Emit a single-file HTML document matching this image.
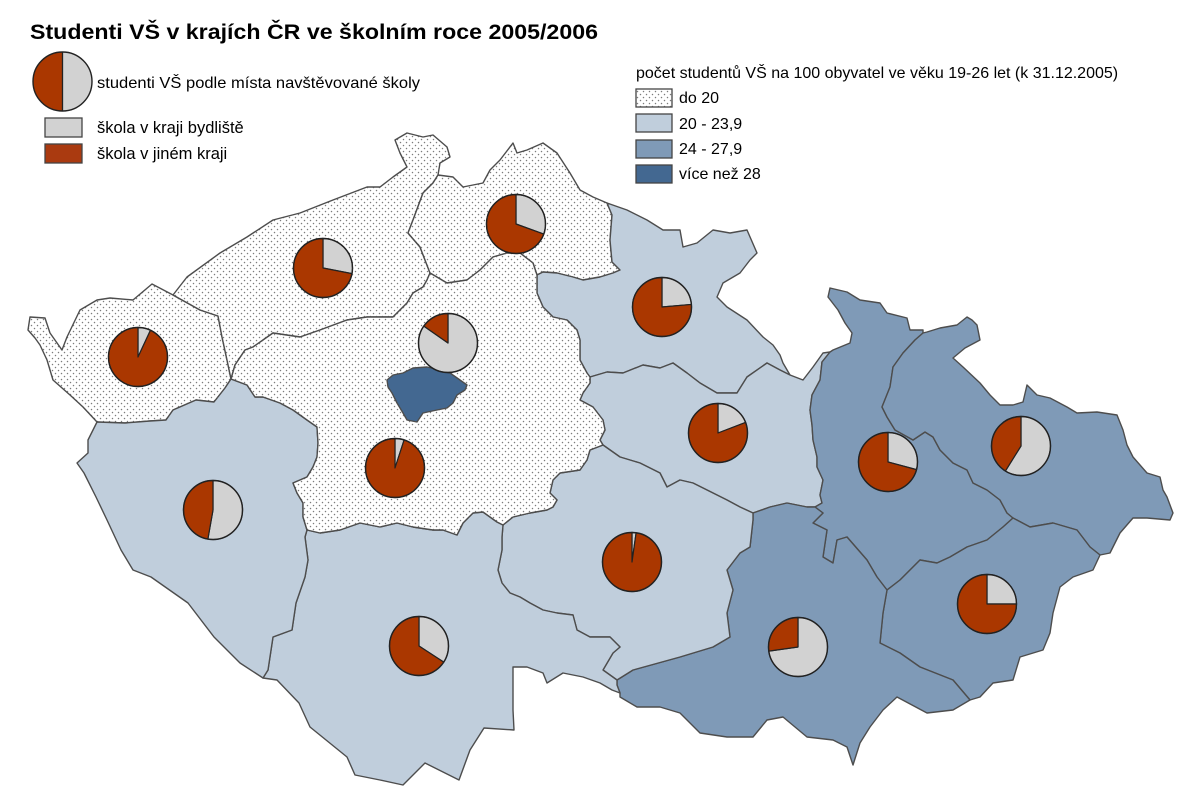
<!DOCTYPE html>
<html><head><meta charset="utf-8"><style>
html,body{margin:0;padding:0;background:#fff;}
svg{display:block;}
text{font-family:"Liberation Sans",Arial,sans-serif;fill:#000;}
</style></head><body>
<svg width="1200" height="800" viewBox="0 0 1200 800" xmlns="http://www.w3.org/2000/svg">
<defs>
<pattern id="dots" width="6" height="6" patternUnits="userSpaceOnUse">
<rect width="6" height="6" fill="#ffffff"/>
<circle cx="1.5" cy="1.5" r="0.75" fill="#7c7c7c"/>
<circle cx="4.5" cy="4.5" r="0.75" fill="#7c7c7c"/>
</pattern>
</defs>
<rect width="1200" height="800" fill="#fff"/>

<text x="30" y="39" font-size="21" font-weight="bold" textLength="568" lengthAdjust="spacingAndGlyphs">Studenti VŠ v krajích ČR ve školním roce 2005/2006</text>

<!-- left legend -->
<path d="M62.5,81.5 L62.5,52 A29.5,29.5 0 0 0 62.5,111 Z" fill="#aa3700"/>
<path d="M62.5,81.5 L62.5,52 A29.5,29.5 0 0 1 62.5,111 Z" fill="#d2d2d2"/>
<line x1="62.5" y1="52" x2="62.5" y2="111" stroke="#222" stroke-width="1.3"/>
<circle cx="62.5" cy="81.5" r="29.5" fill="none" stroke="#222" stroke-width="1.4"/>
<text x="97" y="88" font-size="16" textLength="323" lengthAdjust="spacingAndGlyphs">studenti VŠ podle místa navštěvované školy</text>
<rect x="45" y="118" width="37" height="19" fill="#d2d2d2" stroke="#444" stroke-width="1.3"/>
<text x="97" y="133" font-size="16.5">škola v kraji bydliště</text>
<rect x="45" y="144" width="37" height="19" fill="#aa3a10" stroke="#444" stroke-width="1.3"/>
<text x="97" y="159" font-size="16.5">škola v jiném kraji</text>

<!-- right legend -->
<text x="636" y="78" font-size="16">počet studentů VŠ na 100 obyvatel ve věku 19-26 let (k 31.12.2005)</text>
<rect x="636" y="89" width="36" height="18" fill="url(#dots)" stroke="#444" stroke-width="1.3"/>
<text x="679" y="103" font-size="16">do 20</text>
<rect x="636" y="114" width="36" height="18" fill="#c0cedc" stroke="#444" stroke-width="1.3"/>
<text x="679" y="129" font-size="16">20 - 23,9</text>
<rect x="636" y="140" width="36" height="18" fill="#7f9ab7" stroke="#444" stroke-width="1.3"/>
<text x="679" y="154" font-size="16">24 - 27,9</text>
<rect x="636" y="165" width="36" height="18" fill="#436891" stroke="#444" stroke-width="1.3"/>
<text x="679" y="179" font-size="16">více než 28</text>

<g stroke="#4d4d4d" stroke-width="1.4" stroke-linejoin="round">
<!-- Karlovarsky -->
<path fill="url(#dots)" d="M30,317 L45,318 L50,333 L62,350 L67,337 L80,310 L97,300 L110,298 L133,300 L152,284 L173,295 L200,310 L218,316 L222,337 L227,360 L231,379 L225,388 L214,402 L196,400 L173,410 L166,420 L150,421 L125,423 L97,422 L83,407 L70,395 L53,380 L47,360 L40,345 L35,338 L28,330 Z"/>
<!-- Ustecky -->
<path fill="url(#dots)" d="M173,295 L187,277 L220,253 L247,237 L273,220 L300,213 L333,200 L367,187 L380,187 L393,177 L407,167 L400,153 L395,140 L407,133 L423,137 L433,135 L447,147 L450,157 L440,163 L438,175 L433,183 L423,193 L413,220 L408,233 L420,247 L430,273 L427,280 L423,287 L413,293 L407,303 L393,317 L380,317 L367,317 L347,320 L320,330 L300,337 L273,333 L253,347 L245,350 L235,365 L231,379 L227,360 L222,337 L218,316 L200,310 Z"/>
<!-- Liberecky -->
<path fill="url(#dots)" d="M438,175 L453,177 L463,187 L483,183 L490,170 L500,160 L513,143 L517,153 L527,150 L543,143 L557,153 L570,173 L580,190 L593,197 L607,203 L612,215 L610,240 L612,262 L620,270 L613,273 L600,277 L583,280 L573,277 L557,273 L543,272 L537,275 L533,263 L520,253 L507,253 L493,257 L480,270 L467,280 L447,283 L430,273 L420,247 L408,233 L413,220 L423,193 L433,183 Z"/>
<!-- Kralovehradecky -->
<path fill="#c0cedc" d="M607,203 L627,210 L647,220 L663,230 L680,230 L683,247 L697,243 L713,230 L730,233 L747,230 L757,253 L750,260 L740,273 L723,283 L717,297 L727,307 L747,320 L763,337 L773,345 L780,355 L783,363 L790,375 L780,370 L767,363 L747,377 L737,393 L717,393 L700,383 L687,373 L673,363 L660,368 L643,365 L623,373 L607,372 L590,377 L587,373 L580,360 L580,340 L577,330 L567,320 L553,317 L543,307 L537,293 L537,275 L543,272 L557,273 L573,277 L583,280 L600,277 L613,273 L620,270 L612,262 L610,240 L612,215 Z"/>
<!-- Pardubicky -->
<path fill="#c0cedc" d="M590,377 L607,372 L623,373 L643,365 L660,368 L673,363 L687,373 L700,383 L717,393 L737,393 L747,377 L767,363 L780,370 L790,375 L803,380 L813,367 L823,353 L830,352 L822,362 L820,380 L812,395 L810,410 L812,425 L813,440 L817,457 L817,467 L823,480 L820,495 L822,503 L815,507 L807,507 L787,503 L770,507 L753,513 L740,507 L727,500 L713,493 L693,483 L680,480 L667,487 L660,473 L640,463 L620,457 L603,445 L600,440 L605,430 L603,420 L593,407 L580,400 L583,393 L590,383 Z"/>
<!-- Olomoucky -->
<path fill="#7f9ab7" d="M830,352 L833,350 L850,343 L852,333 L845,323 L838,310 L828,297 L830,288 L847,292 L860,300 L880,303 L887,313 L907,318 L910,330 L923,330 L923,333 L915,340 L903,353 L893,367 L890,387 L882,407 L887,417 L895,430 L913,440 L925,432 L933,437 L940,450 L953,463 L967,470 L973,483 L987,490 L1000,500 L1007,513 L1013,518 L1003,527 L987,540 L967,547 L950,557 L937,563 L920,560 L900,580 L887,590 L877,577 L867,560 L847,537 L837,540 L833,563 L823,557 L827,530 L813,523 L823,513 L815,507 L822,503 L820,495 L823,480 L817,467 L817,457 L813,440 L812,425 L810,410 L812,395 L820,380 L822,362 Z"/>
<!-- Moravskoslezsky -->
<path fill="#7f9ab7" d="M923,333 L927,332 L940,328 L957,325 L967,317 L972,320 L977,325 L980,340 L965,348 L953,358 L963,367 L980,383 L990,395 L1000,405 L1013,405 L1023,402 L1027,385 L1037,395 L1050,398 L1067,407 L1077,413 L1097,412 L1117,415 L1123,430 L1127,445 L1133,457 L1147,473 L1160,477 L1163,490 L1167,497 L1173,513 L1170,520 L1147,518 L1133,518 L1120,533 L1110,553 L1100,555 L1090,547 L1077,530 L1053,523 L1030,527 L1013,518 L1007,513 L1000,500 L987,490 L973,483 L967,470 L953,463 L940,450 L933,437 L925,432 L913,440 L895,430 L887,417 L882,407 L890,387 L893,367 L903,353 L915,340 Z"/>
<!-- Zlinsky -->
<path fill="#7f9ab7" d="M1013,518 L1030,527 L1053,523 L1077,530 L1090,547 L1100,555 L1093,570 L1073,577 L1060,587 L1053,613 L1050,633 L1043,650 L1020,657 L1013,680 L993,683 L980,697 L970,700 L953,680 L920,667 L900,653 L880,643 L883,613 L887,590 L900,580 L920,560 L937,563 L950,557 L967,547 L987,540 L1003,527 Z"/>
<!-- Jihomoravsky -->
<path fill="#7f9ab7" d="M753,513 L770,507 L787,503 L807,507 L815,507 L823,513 L813,523 L827,530 L823,557 L833,563 L837,540 L847,537 L867,560 L877,577 L887,590 L883,613 L880,643 L900,653 L920,667 L953,680 L970,700 L953,710 L927,713 L897,697 L883,710 L870,727 L860,743 L853,765 L847,747 L833,740 L807,737 L783,717 L767,720 L753,737 L727,737 L700,733 L680,713 L660,707 L637,707 L620,697 L620,693 L617,685 L617,680 L633,670 L680,657 L713,647 L730,637 L727,613 L733,590 L727,570 L740,553 L750,547 L753,520 Z"/>
<!-- Vysocina -->
<path fill="#c0cedc" d="M603,445 L620,457 L640,463 L660,473 L667,487 L680,480 L693,483 L713,493 L727,500 L740,507 L753,513 L753,520 L750,547 L740,553 L727,570 L733,590 L727,613 L730,637 L713,647 L680,657 L633,670 L617,680 L603,670 L613,653 L620,647 L610,637 L590,637 L577,630 L573,615 L557,613 L543,610 L530,603 L520,597 L510,593 L502,583 L498,570 L502,550 L502,537 L503,525 L513,517 L530,513 L547,510 L553,507 L557,500 L550,493 L553,480 L560,473 L580,470 L587,460 L590,450 Z"/>
<!-- Jihocesky -->
<path fill="#c0cedc" d="M307,530 L320,533 L340,530 L360,523 L380,527 L397,523 L413,527 L433,530 L443,530 L457,535 L463,523 L473,513 L483,512 L497,522 L503,525 L502,537 L502,550 L498,570 L502,583 L510,593 L520,597 L530,603 L543,610 L557,613 L573,615 L577,630 L590,637 L610,637 L620,647 L613,653 L603,670 L617,680 L617,685 L620,693 L612,690 L600,683 L583,677 L563,673 L547,683 L543,673 L527,667 L513,667 L513,710 L514,730 L484,728 L470,750 L459,780 L425,763 L403,785 L380,780 L355,775 L347,757 L310,727 L299,703 L277,680 L263,678 L268,670 L273,637 L292,630 L296,603 L305,577 L308,560 L305,537 Z"/>
<!-- Plzensky -->
<path fill="#c0cedc" d="M97,422 L125,423 L150,421 L166,420 L173,410 L196,400 L214,402 L225,388 L231,379 L247,385 L255,397 L263,397 L280,403 L293,410 L307,420 L317,427 L318,443 L317,457 L313,467 L307,477 L293,483 L297,493 L303,503 L303,517 L307,530 L305,537 L308,560 L305,577 L296,603 L292,630 L273,637 L268,670 L263,678 L240,663 L214,637 L188,603 L151,577 L133,570 L121,550 L107,520 L96,497 L84,473 L77,463 L88,453 L88,440 Z"/>
<!-- Stredocesky -->
<path fill="url(#dots)" d="M231,379 L235,365 L245,350 L253,347 L273,333 L300,337 L320,330 L347,320 L367,317 L380,317 L393,317 L407,303 L413,293 L423,287 L427,280 L430,273 L447,283 L467,280 L480,270 L493,257 L507,253 L520,253 L533,263 L537,275 L537,293 L543,307 L553,317 L567,320 L577,330 L580,340 L580,360 L587,373 L590,377 L590,383 L583,393 L580,400 L593,407 L603,420 L605,430 L600,440 L603,445 L590,450 L587,460 L580,470 L560,473 L553,480 L550,493 L557,500 L553,507 L547,510 L530,513 L513,517 L503,525 L497,522 L483,512 L473,513 L463,523 L457,535 L443,530 L433,530 L413,527 L397,523 L380,527 L360,523 L340,530 L320,533 L307,530 L303,517 L303,503 L297,493 L293,483 L307,477 L313,467 L317,457 L318,443 L317,427 L307,420 L293,410 L280,403 L263,397 L255,397 L247,385 Z"/>
<!-- Praha -->
<path fill="#436891" d="M387,380 L393,375 L403,373 L413,368 L427,367 L440,370 L450,373 L460,380 L467,385 L465,390 L457,395 L453,403 L447,408 L437,410 L423,413 L417,422 L407,420 L403,413 L397,403 L392,393 L388,387 Z"/>
</g>

<!-- pies -->
<g stroke="#222" stroke-width="1.2" stroke-linejoin="round">
<!-- KV -->
<path d="M138,357 L138,327.5 A29.5,29.5 0 0 1 150.47,330.26 Z" fill="#d2d2d2"/>
<path d="M138,357 L150.47,330.26 A29.5,29.5 0 1 1 138,327.5 Z" fill="#aa3700"/>
<!-- Usti -->
<path d="M323,268 L323,238.5 A29.5,29.5 0 0 1 351.96,273.63 Z" fill="#d2d2d2"/>
<path d="M323,268 L351.96,273.63 A29.5,29.5 0 1 1 323,238.5 Z" fill="#aa3700"/>
<!-- Liberec -->
<path d="M516,224 L516,194.5 A29.5,29.5 0 0 1 543.72,234.09 Z" fill="#d2d2d2"/>
<path d="M516,224 L543.72,234.09 A29.5,29.5 0 1 1 516,194.5 Z" fill="#aa3700"/>
<!-- Praha -->
<path d="M448,343 L448,313.5 A29.5,29.5 0 1 1 423.83,326.08 Z" fill="#d2d2d2"/>
<path d="M448,343 L423.83,326.08 A29.5,29.5 0 0 1 448,313.5 Z" fill="#aa3700"/>
<!-- Stredocesky -->
<path d="M395,468 L395,438.5 A29.5,29.5 0 0 1 404.12,439.94 Z" fill="#d2d2d2"/>
<path d="M395,468 L404.12,439.94 A29.5,29.5 0 1 1 395,438.5 Z" fill="#aa3700"/>
<!-- Plzen -->
<path d="M213,510 L213,480.5 A29.5,29.5 0 1 1 207.88,539.05 Z" fill="#d2d2d2"/>
<path d="M213,510 L207.88,539.05 A29.5,29.5 0 0 1 213,480.5 Z" fill="#aa3700"/>
<!-- Jihocesky -->
<path d="M419,646 L419,616.5 A29.5,29.5 0 0 1 443.74,662.07 Z" fill="#d2d2d2"/>
<path d="M419,646 L443.74,662.07 A29.5,29.5 0 1 1 419,616.5 Z" fill="#aa3700"/>
<!-- KH -->
<path d="M662,307 L662,277.5 A29.5,29.5 0 0 1 691.39,304.43 Z" fill="#d2d2d2"/>
<path d="M662,307 L691.39,304.43 A29.5,29.5 0 1 1 662,277.5 Z" fill="#aa3700"/>
<!-- Pardubice -->
<path d="M718,433 L718,403.5 A29.5,29.5 0 0 1 745.54,422.43 Z" fill="#d2d2d2"/>
<path d="M718,433 L745.54,422.43 A29.5,29.5 0 1 1 718,403.5 Z" fill="#aa3700"/>
<!-- Vysocina -->
<path d="M632,562 L632,532.5 A29.5,29.5 0 0 1 636.11,532.79 Z" fill="#d2d2d2"/>
<path d="M632,562 L636.11,532.79 A29.5,29.5 0 1 1 632,532.5 Z" fill="#aa3700"/>
<!-- JM -->
<path d="M798,647 L798,617.5 A29.5,29.5 0 1 1 768.79,651.11 Z" fill="#d2d2d2"/>
<path d="M798,647 L768.79,651.11 A29.5,29.5 0 0 1 798,617.5 Z" fill="#aa3700"/>
<!-- Olomouc -->
<path d="M888,462 L888,432.5 A29.5,29.5 0 0 1 916.49,469.64 Z" fill="#d2d2d2"/>
<path d="M888,462 L916.49,469.64 A29.5,29.5 0 1 1 888,432.5 Z" fill="#aa3700"/>
<!-- MS -->
<path d="M1021,446 L1021,416.5 A29.5,29.5 0 1 1 1005.37,471.02 Z" fill="#d2d2d2"/>
<path d="M1021,446 L1005.37,471.02 A29.5,29.5 0 0 1 1021,416.5 Z" fill="#aa3700"/>
<!-- Zlin -->
<path d="M987,604 L987,574.5 A29.5,29.5 0 0 1 1016.5,604 Z" fill="#d2d2d2"/>
<path d="M987,604 L1016.5,604 A29.5,29.5 0 1 1 987,574.5 Z" fill="#aa3700"/>
</g>
<g fill="none" stroke="#222" stroke-width="1.4">
<circle cx="138" cy="357" r="29.5"/>
<circle cx="323" cy="268" r="29.5"/>
<circle cx="516" cy="224" r="29.5"/>
<circle cx="448" cy="343" r="29.5"/>
<circle cx="395" cy="468" r="29.5"/>
<circle cx="213" cy="510" r="29.5"/>
<circle cx="419" cy="646" r="29.5"/>
<circle cx="662" cy="307" r="29.5"/>
<circle cx="718" cy="433" r="29.5"/>
<circle cx="632" cy="562" r="29.5"/>
<circle cx="798" cy="647" r="29.5"/>
<circle cx="888" cy="462" r="29.5"/>
<circle cx="1021" cy="446" r="29.5"/>
<circle cx="987" cy="604" r="29.5"/>
</g>
</svg>
</body></html>
